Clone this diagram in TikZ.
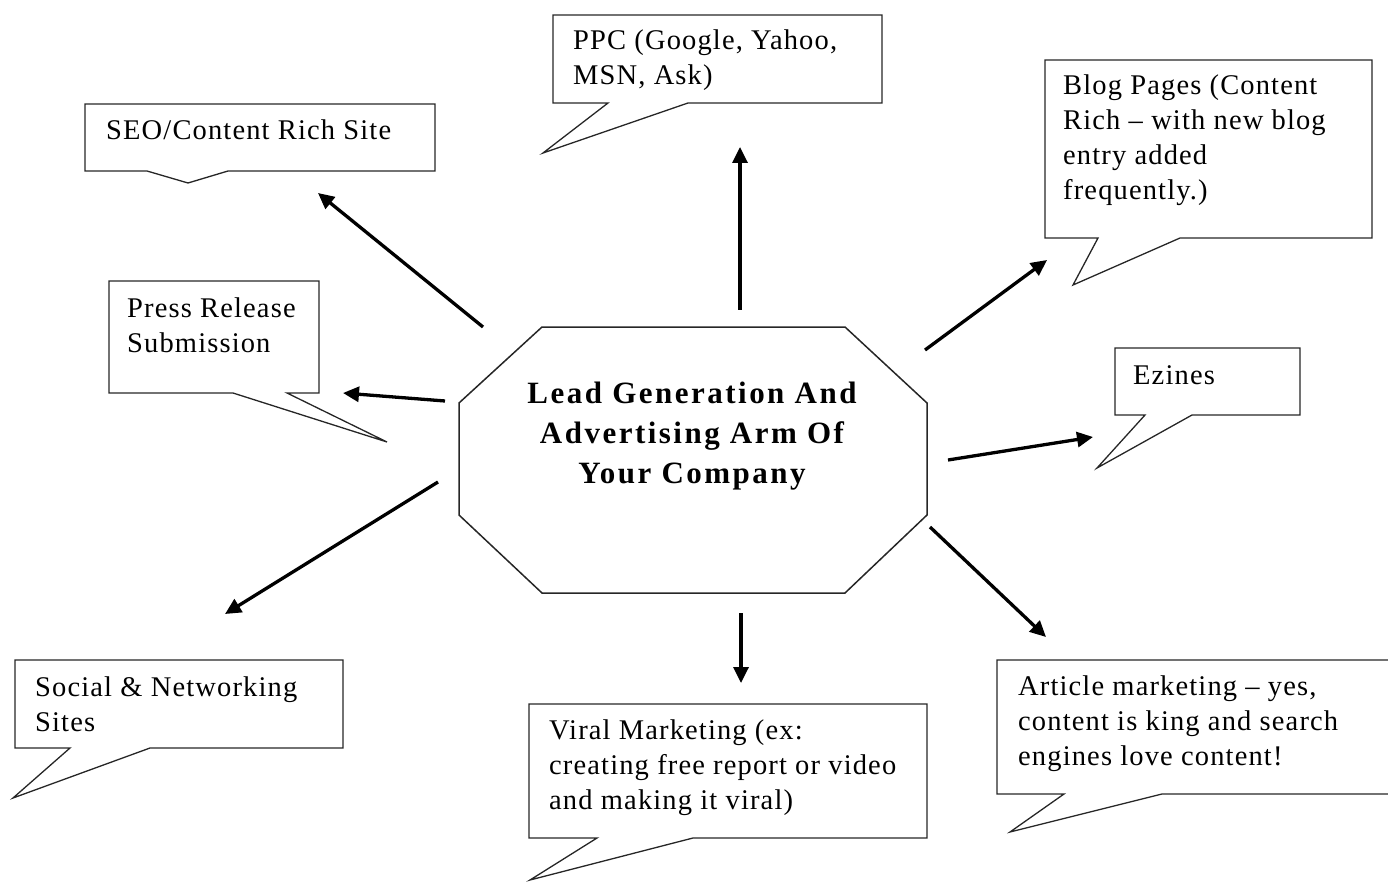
\documentclass[tikz,border=0pt]{standalone}
\usepackage{fontspec}
\setmainfont{Liberation Serif}
\newfontfamily\calloutfont[LetterSpace=4]{Liberation Serif}
\newfontfamily\centerfont[LetterSpace=8]{Liberation Serif}
\usetikzlibrary{arrows.meta}
\begin{document}
\begin{tikzpicture}[x=1pt,y=-1pt,
  callout/.style={draw=black!85, line width=1.3pt, line join=miter},
  octo/.style={draw=black!85, line width=1.5pt},
  txt/.style={anchor=north west, inner sep=0pt, align=left,
    font=\calloutfont\fontsize{28.5}{34.7}\selectfont},
  ctxt/.style={anchor=north, inner sep=0pt, align=center,
    font=\centerfont\bfseries\fontsize{31}{40}\selectfont},
  conn/.style={line width=3.3pt, -{Triangle[length=16pt,width=15pt]}},
]
\useasboundingbox (0,0) rectangle (1388,882);

% central octagon
\draw[octo] (542,327) -- (845,327) -- (927,403) -- (927,515) -- (845,593)
  -- (542,593) -- (459,515) -- (459,403) -- cycle;
\node[ctxt] (lead) at (692,381.5) {Lead Generation And\\Advertising Arm Of\\Your Company};

% callouts
\draw[callout] (85,104) -- (435,104) -- (435,171) -- (228,171) -- (188,183) -- (147,171) -- (85,171) -- cycle;
\node[txt] (seo) at (106,120) {SEO/Content Rich Site};

\draw[callout] (553,15) -- (882,15) -- (882,103) -- (688,103) -- (543,153) -- (608,103) -- (553,103) -- cycle;
\node[txt] (ppc) at (573,30) {PPC (Google, Yahoo,\\MSN, Ask)};

\draw[callout] (1045,60) -- (1372,60) -- (1372,238) -- (1180,238) -- (1073,285) -- (1098,238) -- (1045,238) -- cycle;
\node[txt] (blog) at (1063,75) {Blog Pages (Content\\Rich – with new blog\\entry added\\frequently.)};

\draw[callout] (109,281) -- (319,281) -- (319,393) -- (287,393) -- (387,442) -- (233,393) -- (109,393) -- cycle;
\node[txt] (press) at (127,298) {Press Release\\Submission};

\draw[callout] (1115,348) -- (1300,348) -- (1300,415) -- (1192,415) -- (1097,468) -- (1145,415) -- (1115,415) -- cycle;
\node[txt] (ezines) at (1133,365.5) {Ezines};

\draw[callout] (15,660) -- (343,660) -- (343,748) -- (150,748) -- (13,798) -- (70,748) -- (15,748) -- cycle;
\node[txt] (social) at (35,676.5) {Social \& Networking\\Sites};

\draw[callout] (529,704) -- (927,704) -- (927,838) -- (693,838) -- (530,880) -- (597,838) -- (529,838) -- cycle;
\node[txt] (viral) at (549,720) {Viral Marketing (ex:\\creating free report or video\\and making it viral)};

\draw[callout] (1400,660) -- (997,660) -- (997,794) -- (1064,794) -- (1010,832) -- (1162,794) -- (1400,794);
\node[txt] (article) at (1018,676) {Article marketing – yes,\\content is king and search\\engines love content!};

% arrows
\coordinate (sA) at (483,327);  \coordinate (eA) at (318,193);
\coordinate (sB) at (740,310);  \coordinate (eB) at (740,147);
\coordinate (sC) at (925,350);  \coordinate (eC) at (1047,260);
\coordinate (sD) at (445,401);  \coordinate (eD) at (343,393);
\coordinate (sE) at (948,460);  \coordinate (eE) at (1093,437);
\coordinate (sF) at (438,482);  \coordinate (eF) at (225,614);
\coordinate (sG) at (741,613);  \coordinate (eG) at (741,683);
\coordinate (sH) at (930,527);  \coordinate (eH) at (1046,637);
\draw[conn] (sA) -- (eA);
\draw[conn] (sB) -- (eB);
\draw[conn] (sC) -- (eC);
\draw[conn] (sD) -- (eD);
\draw[conn] (sE) -- (eE);
\draw[conn] (sF) -- (eF);
\draw[conn] (sG) -- (eG);
\draw[conn] (sH) -- (eH);
\end{tikzpicture}
\end{document}
